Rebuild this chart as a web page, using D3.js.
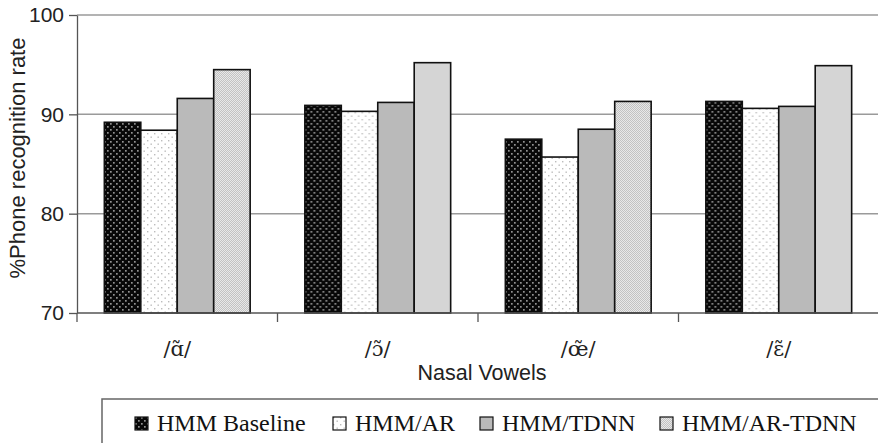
<!DOCTYPE html>
<html>
<head>
<meta charset="utf-8">
<script src="https://cdn.jsdelivr.net/npm/d3@7/dist/d3.min.js"></script>
<style>
  html, body { margin: 0; padding: 0; background: #fff; }
  svg { display: block; }
</style>
</head>
<body>
<svg id="chart" width="878" height="443"></svg>
<script>
// Nasal vowel categories
const categories = ["/ɑ̃/", "/ɔ̃/", "/œ̃/", "/ɛ̃/"];
const seriesNames = ["HMM Baseline", "HMM/AR", "HMM/TDNN", "HMM/AR-TDNN"];
const hmmBaseline = [89.2, 90.9, 87.5, 91.3];
const hmmAR = [88.4, 90.3, 85.7, 90.6];
const hmmTDNN = [91.6, 91.2, 88.5, 90.8];
const hmmARTDNN = [94.5, 95.2, 91.3, 94.9];
const yTicks = [70, 80, 90, 100];

const seriesValues = [hmmBaseline, hmmAR, hmmTDNN, hmmARTDNN];
const svg = d3.select("#chart");
const serif = "'Liberation Serif', 'Times New Roman', serif";
const sans = "Arial, 'Liberation Sans', sans-serif";

// Fill patterns
const defs = svg.append("defs");
function dotPattern(id, bg, dot, size, r) {
  const p = defs.append("pattern").attr("id", id)
    .attr("patternUnits", "userSpaceOnUse").attr("width", size).attr("height", size);
  p.append("rect").attr("width", size).attr("height", size).attr("fill", bg);
  p.append("rect").attr("x", 0).attr("y", 0).attr("width", r).attr("height", r).attr("fill", dot);
  p.append("rect").attr("x", size / 2).attr("y", size / 2).attr("width", r).attr("height", r).attr("fill", dot);
}
dotPattern("pat-base", "#080808", "#929292", 6, 1.7);
dotPattern("pat-ar", "#ffffff", "#bcbcbc", 7, 1.4);
const chk = defs.append("pattern").attr("id", "pat-artdnn")
  .attr("patternUnits", "userSpaceOnUse").attr("width", 2).attr("height", 2);
chk.append("rect").attr("width", 2).attr("height", 2).attr("fill", "#e8e8e8");
chk.append("rect").attr("width", 1).attr("height", 1).attr("fill", "#c2c2c2");
chk.append("rect").attr("x", 1).attr("y", 1).attr("width", 1).attr("height", 1).attr("fill", "#c2c2c2");
const fills = ["url(#pat-base)", "url(#pat-ar)", "#bababa", "url(#pat-artdnn)"];

// Scales
const plotLeft = 77, plotRight = 879, plotTop = 15, plotBottom = 313;
const x0 = d3.scaleBand().domain(categories).range([plotLeft, plotRight]).paddingInner(0).paddingOuter(0);
const x1 = d3.scaleBand().domain(seriesNames).range([0, x0.bandwidth()]).paddingInner(0).paddingOuter(0.75);
const y = d3.scaleLinear().domain([70, 100]).range([plotBottom, plotTop]);

// Gridlines
svg.append("g").selectAll("line").data(yTicks.filter(d => d > 70)).join("line")
  .attr("x1", plotLeft).attr("x2", plotRight)
  .attr("y1", d => y(d)).attr("y2", d => y(d))
  .attr("stroke", "#9a9a9a").attr("stroke-width", 1.5);

// Bars
const groups = svg.append("g").selectAll("g").data(categories).join("g")
  .attr("transform", d => `translate(${x0(d)},0)`);
groups.selectAll("rect")
  .data((c, ci) => seriesNames.map((s, si) => ({ s, si, v: seriesValues[si][ci] })))
  .join("rect")
  .attr("x", d => x1(d.s)).attr("width", x1.bandwidth())
  .attr("y", d => y(d.v)).attr("height", d => y(70) - y(d.v))
  .attr("fill", d => fills[d.si])
  .attr("stroke", "#111").attr("stroke-width", 1.6);

// Y axis
const yAxis = d3.axisLeft(y).tickValues(yTicks).tickSize(8).tickPadding(5).tickSizeOuter(0);
const gy = svg.append("g").attr("transform", `translate(${plotLeft},0)`).call(yAxis);
gy.select(".domain").attr("stroke", "#555").attr("stroke-width", 1.3);
gy.selectAll(".tick line").attr("stroke", "#555").attr("stroke-width", 1.3);
gy.selectAll(".tick text").attr("font-family", sans)
  .attr("font-size", 21).attr("fill", "#222");

// X axis baseline and category separators
svg.append("line").attr("x1", plotLeft).attr("x2", plotRight)
  .attr("y1", plotBottom).attr("y2", plotBottom)
  .attr("stroke", "#555").attr("stroke-width", 1.3);
const bounds = categories.map(c => x0(c)).concat([x0(categories[categories.length - 1]) + x0.bandwidth()]);
svg.append("g").selectAll("line").data(bounds).join("line")
  .attr("x1", d => d).attr("x2", d => d)
  .attr("y1", plotBottom).attr("y2", plotBottom + 9)
  .attr("stroke", "#555").attr("stroke-width", 1.3);

// Category labels (IPA with combining tilde, set in a font with mark positioning)
svg.append("g").selectAll("text").data(categories).join("text")
  .attr("x", d => x0(d) + x0.bandwidth() / 2).attr("y", 356)
  .attr("text-anchor", "middle")
  .attr("font-family", "'DejaVu Serif', serif")
  .attr("font-size", 21).attr("fill", "#222")
  .text(d => d);

// Axis titles
svg.append("text").attr("x", 482).attr("y", 380)
  .attr("text-anchor", "middle").attr("font-family", sans)
  .attr("font-size", 21.5).attr("fill", "#222")
  .text("Nasal Vowels");
svg.append("text")
  .attr("transform", "translate(25,158) rotate(-90)")
  .attr("text-anchor", "middle").attr("font-family", sans)
  .attr("font-size", 22).attr("fill", "#222")
  .text("%Phone recognition rate");

// Legend
svg.append("rect").attr("x", 102).attr("y", 399).attr("width", 800).attr("height", 80)
  .attr("fill", "none").attr("stroke", "#666").attr("stroke-width", 1.5);
const legendX = [135, 333, 480, 660];
const leg = svg.append("g").selectAll("g").data(seriesNames).join("g")
  .attr("transform", (d, i) => `translate(${legendX[i]},417)`);
leg.append("rect").attr("width", 13).attr("height", 13)
  .attr("fill", (d, i) => fills[i]).attr("stroke", "#111").attr("stroke-width", 1.2);
leg.append("text").attr("x", 22).attr("y", 14)
  .attr("font-family", serif)
  .attr("font-size", 24).attr("fill", "#111")
  .text(d => d);
</script>
</body>
</html>
